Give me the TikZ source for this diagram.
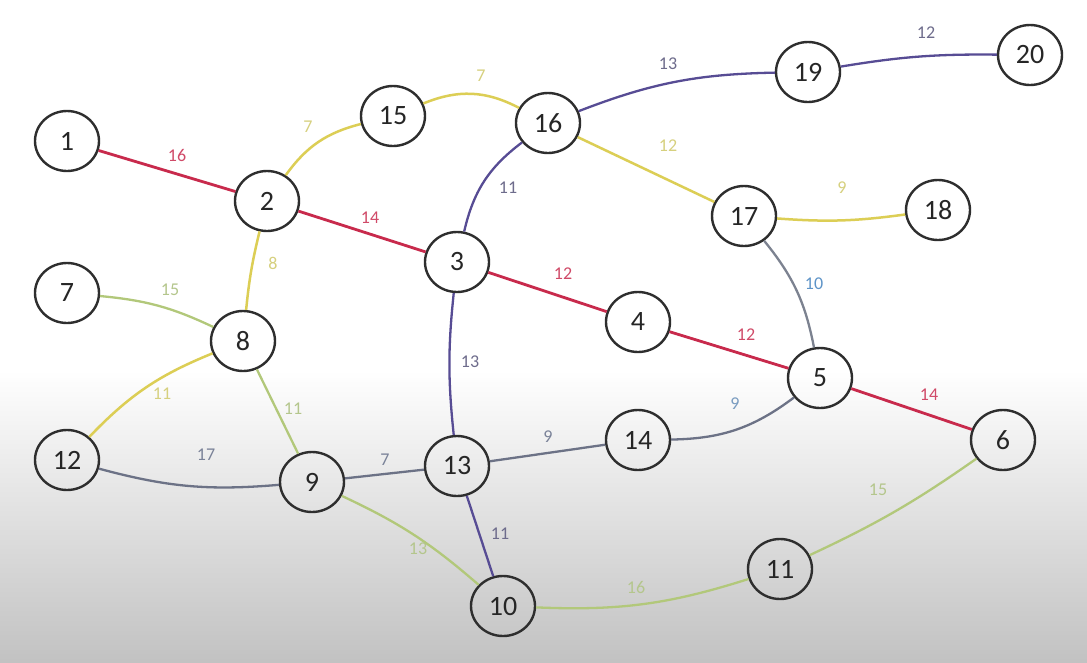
\documentclass[tikz,border=0pt]{standalone}
\usepackage{fontspec}
\setmainfont{Carlito}
\usetikzlibrary{shapes.geometric}
\definecolor{redc}{HTML}{C82A4C}
\definecolor{yelc}{HTML}{DCCE55}
\definecolor{purc}{HTML}{574C94}
\definecolor{gryc}{HTML}{6C7286}
\definecolor{bluc}{HTML}{7C8290}
\definecolor{grnc}{HTML}{B2C87A}
\definecolor{vtxc}{HTML}{2E2E2E}
\definecolor{txtc}{HTML}{262626}
\definecolor{lred}{HTML}{D04A68}
\definecolor{lyel}{HTML}{D6D07E}
\definecolor{lpur}{HTML}{6E6C8C}
\definecolor{lgrn}{HTML}{B4C68C}
\definecolor{lblu}{HTML}{5E94C8}
\definecolor{lblub}{HTML}{7A9CC0}
\definecolor{lgry}{HTML}{7A8298}
\begin{document}
\begin{tikzpicture}[x=1pt,y=1pt,
  vtx/.style={ellipse, draw=vtxc, line width=2.4pt, minimum width=64pt, minimum height=60pt, inner sep=0pt, font=\fontsize{28}{28}\selectfont, text=txtc},
  wl/.style={font=\fontsize{18}{18}\selectfont, inner sep=0pt},
  redE/.style={draw=redc, line width=2.8pt},
  yelE/.style={draw=yelc, line width=2.5pt},
  purE/.style={draw=purc, line width=2.3pt},
  gryE/.style={draw=gryc, line width=2.3pt},
  bluE/.style={draw=bluc, line width=2.3pt},
  grnE/.style={draw=grnc, line width=2.3pt}
]
% background
\fill[white] (0,0) rectangle (1087,-662);
\shade[top color=white, bottom color=gray!48] (0,-370) rectangle (1087,-662);
\useasboundingbox (0,0) rectangle (1087,-662);

% vertices
\node[vtx] (n1) at (67,-141) {1};
\node[vtx] (n2) at (267,-201) {2};
\node[vtx] (n3) at (457,-262) {3};
\node[vtx] (n4) at (638,-322) {4};
\node[vtx] (n5) at (820,-378) {5};
\node[vtx] (n6) at (1003,-440) {6};
\node[vtx] (n7) at (67,-293) {7};
\node[vtx] (n8) at (243,-341) {8};
\node[vtx] (n9) at (312,-482) {9};
\node[vtx] (n10) at (503,-606) {10};
\node[vtx] (n11) at (780,-569) {11};
\node[vtx] (n12) at (67,-460) {12};
\node[vtx] (n13) at (457,-466) {13};
\node[vtx] (n14) at (638,-440) {14};
\node[vtx] (n15) at (393,-116) {15};
\node[vtx] (n16) at (548,-123) {16};
\node[vtx] (n17) at (744,-216) {17};
\node[vtx] (n18) at (938,-210) {18};
\node[vtx] (n19) at (808,-72) {19};
\node[vtx] (n20) at (1030,-55) {20};

% edges
\draw[redE] (n1) -- (n2);
\draw[redE] (n2) -- (n3);
\draw[redE] (n3) -- (n4);
\draw[redE] (n4) -- (n5);
\draw[redE] (n5) -- (n6);
\draw[yelE] (n2) to[bend left=20] (n15);
\draw[yelE] (n15) to[bend left=25] (n16);
\draw[purE] (n16) to[bend left=10] (n19);
\draw[purE] (n19) to[bend left=5] (n20);
\draw[yelE] (n16) -- (n17);
\draw[yelE] (n17) to[bend right=6] (n18);
\draw[purE] (n16) to[bend right=20] (n3);
\draw[purE] (n3) to[bend right=6] (n13);
\draw[bluE] (n17) to[bend left=14] (n5);
\draw[yelE] (n2) to[bend right=4] (n8);
\draw[grnE] (n7) to[bend left=10] (n8);
\draw[yelE] (n8) to[bend right=12] (n12);
\draw[grnE] (n8) -- (n9);
\draw[gryE] (n12) to[bend right=10] (n9);
\draw[gryE] (n9) -- (n13);
\draw[gryE] (n13) -- (n14);
\draw[gryE] (n14) to[bend right=18] (n5);
\draw[purE] (n13) -- (n10);
\draw[grnE] (n9) to[bend left=8] (n10);
\draw[grnE] (n10) to[bend right=10] (n11);
\draw[grnE] (n11) to[bend right=5] (n6);

% weights
\node[wl, text=lred] (w1) at (177,-155) {16};
\node[wl, text=lred] (w2) at (370,-218) {14};
\node[wl, text=lred] (w3) at (563,-274) {12};
\node[wl, text=lred] (w4) at (746,-335) {12};
\node[wl, text=lred] (w5) at (929,-395) {14};
\node[wl, text=lyel] (w6) at (308,-127) {7};
\node[wl, text=lyel] (w7) at (481,-76) {7};
\node[wl, text=lpur] (w8) at (668,-64) {13};
\node[wl, text=lpur] (w9) at (926,-33) {12};
\node[wl, text=lyel] (w10) at (668,-146) {12};
\node[wl, text=lyel] (w11) at (842,-188) {9};
\node[wl, text=lpur] (w12) at (508,-188) {11};
\node[wl, text=lblu] (w13) at (814,-284) {10};
\node[wl, text=lyel] (w14) at (273,-263) {8};
\node[wl, text=lgrn] (w15) at (170,-290) {15};
\node[wl, text=lyel] (w16) at (162,-394) {11};
\node[wl, text=lgrn] (w17) at (293,-409) {11};
\node[wl, text=lpur] (w18) at (470,-362) {13};
\node[wl, text=lgry] (w19) at (206,-455) {17};
\node[wl, text=lgry] (w20) at (385,-460) {7};
\node[wl, text=lgry] (w21) at (548,-437) {9};
\node[wl, text=lblub] (w22) at (735,-404) {9};
\node[wl, text=lpur] (w23) at (500,-534) {11};
\node[wl, text=lgrn] (w24) at (418,-549) {13};
\node[wl, text=lgrn] (w25) at (636,-587) {16};
\node[wl, text=lgrn] (w26) at (878,-490) {15};
\end{tikzpicture}
\end{document}
